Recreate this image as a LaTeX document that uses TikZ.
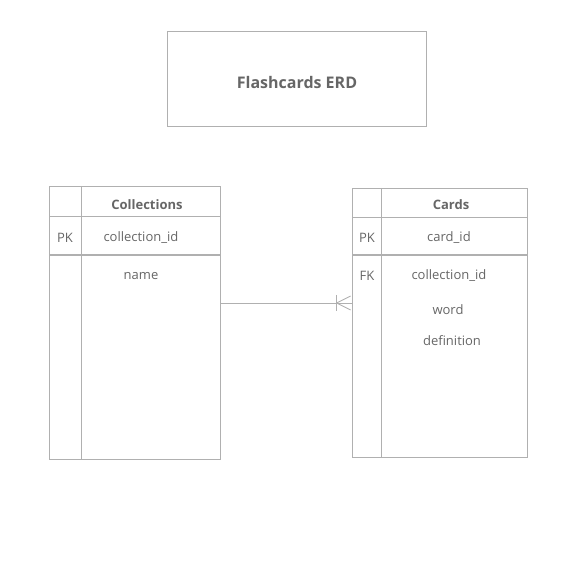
\documentclass[tikz,border=0pt]{standalone}
\usepackage{fontspec}
\setmainfont{Open Sans}
\usepackage{xcolor}
\usetikzlibrary{positioning, calc}
\definecolor{linea}{HTML}{B0B0B0}
\definecolor{testo}{HTML}{666666}

\begin{document}
\begin{tikzpicture}[x=1pt, y=-1pt,
    every node/.style={text=testo, font=\fontsize{13}{15}\selectfont},
    box/.style={draw=linea, line width=0.9pt, inner sep=0pt},
    voce/.style={align=left, yshift=-1pt},
    head/.style={font=\fontsize{13}{15}\selectfont\bfseries, yshift=-1pt}]
                    \useasboundingbox (0,0) rectangle (587,564);

                    % titolo
                    \node[box, minimum width=259pt, minimum height=95pt] (Titolo) at (296.5,78.5) {};
                    \node[head, font=\fontsize{16}{18}\selectfont\bfseries] (TitoloTesto) at (297,82) {Flashcards ERD};

                    % tabella Collections
                    \node[box, minimum width=171pt, minimum height=273pt] (Coll) at (134.5,322.5) {};
                    \draw[linea, line width=0.9pt] (81,186) -- (81,459);
                    \draw[linea, line width=0.9pt] (49,216) -- (220,216);
                    \draw[linea, line width=1.3pt] (49,255) -- (220,255);
                    \node[head] (Coll1) at (147,204) {Collections};
                    \node[voce] (Coll2) at (65,237) {PK};
                    \node[voce] (Coll3) at (141,237) {collection\_id};
                    \node[voce] (Coll4) at (141,275) {name};

                    % tabella Cards
                    \node[box, minimum width=175pt, minimum height=269pt] (Card) at (439.5,322.5) {};
                    \draw[linea, line width=0.9pt] (381,188) -- (381,457);
                    \draw[linea, line width=0.9pt] (352,217) -- (527,217);
                    \draw[linea, line width=1.3pt] (352,255) -- (527,255);
                    \node[head] (Card1) at (451,204) {Cards};
                    \node[voce] (Card2) at (367,237) {PK};
                    \node[voce] (Card3) at (449,237) {card\_id};
                    \node[voce] (Card4) at (367,275) {FK};
                    \node[voce] (Card5) at (449,275) {collection\_id};
                    \node[voce] (Card6) at (448,309) {word};
                    \node[voce] (Card7) at (452,340) {definition};

                    % relazione uno-a-molti
                    \coordinate (Da) at (Coll.east |- 0,303);
                    \coordinate (A) at (Card.west |- 0,303);
                    \draw[linea, line width=0.9pt] (Da) -- (A);
                    \draw[linea, line width=0.9pt] ($(A)+(-15,-8)$) -- ($(A)+(-15,8)$);
                    \draw[linea, line width=0.9pt] ($(A)+(-15,0)$) -- ($(A)+(-1,-7)$);
                    \draw[linea, line width=0.9pt] ($(A)+(-15,0)$) -- ($(A)+(-1,7)$);
                \end{tikzpicture}
\end{document}
